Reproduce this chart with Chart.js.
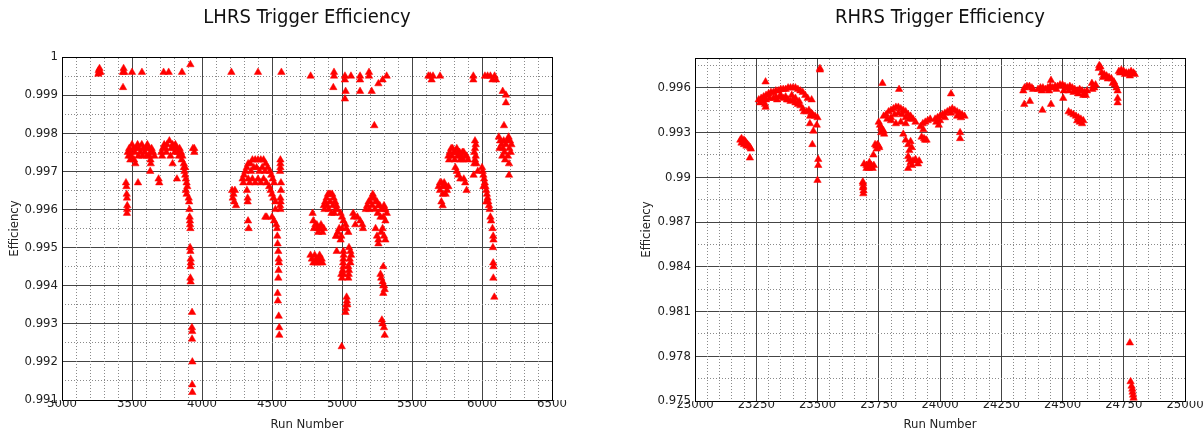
<!DOCTYPE html>
<html>
<head>
<meta charset="utf-8">
<script src="https://cdn.jsdelivr.net/npm/chart.js@4.4.1/dist/chart.umd.min.js"></script>
<style>
  body { margin: 0; background: #fff; width: 1204px; height: 432px; position: relative; overflow: hidden; }
  .box { position: absolute; top: 0; height: 432px; }
</style>
</head>
<body>
<div class="box" style="left:0;width:600px"><canvas id="lhrs" width="600" height="432"></canvas></div>
<div class="box" style="left:600px;width:604px"><canvas id="rhrs" width="604" height="432"></canvas></div>
<script>
// tick labels
const lhrsXTicks = [3000, 3500, 4000, 4500, 5000, 5500, 6000, 6500];
const lhrsYTicks = [0.991, 0.992, 0.993, 0.994, 0.995, 0.996, 0.997, 0.998, 0.999, 1];
const rhrsXTicks = [23000, 23250, 23500, 23750, 24000, 24250, 24500, 24750, 25000];
const rhrsYTicks = [0.975, 0.978, 0.981, 0.984, 0.987, 0.99, 0.993, 0.996];

// [run number, efficiency]
const lhrsPoints = [
  [3262,0.99965],[3265,0.9996],[3260,0.99955],[3268,0.9997],[3275,0.9996],
  [3440,0.9997],[3445,0.9996],[3435,0.9996],[3436,0.9992],
  [3500,0.9996],[3571,0.9996],[3726,0.9996],[3762,0.9996],[3857,0.9996],[3917,0.9998],
  [4210,0.9996],[4400,0.9996],[4567,0.9996],
  [4776,0.9995],[4943,0.9996],[4943,0.9995],[4938,0.9992],
  [5021,0.9995],[5021,0.9994],[5026,0.9991],[5021,0.9989],[5064,0.9995],
  [5129,0.9995],[5129,0.9994],[5129,0.9991],[5193,0.9996],[5193,0.9995],[5212,0.9991],[5231,0.9982],[5260,0.9993],[5290,0.9994],[5319,0.9995],
  [5617,0.9995],[5630,0.9995],[5640,0.9994],[5650,0.9995],[5700,0.9995],
  [5938,0.9995],[5938,0.9994],
  [6021,0.9995],[6040,0.9995],[6060,0.9995],[6075,0.9994],[6090,0.9995],[6100,0.9994],
  [6148,0.9991],[6171,0.999],[6171,0.9988],[6157,0.9982],
  [3470,0.9975],[3480,0.9976],[3490,0.9975],[3500,0.9977],[3510,0.9976],[3520,0.9975],[3530,0.9976],[3540,0.9977],[3550,0.9976],[3560,0.9975],
  [3570,0.9977],[3580,0.9976],[3590,0.9975],[3600,0.9976],[3610,0.9977],[3620,0.9976],[3630,0.9975],[3640,0.9976],[3650,0.9975],[3660,0.9974],
  [3475,0.9974],[3495,0.9974],[3515,0.9973],[3545,0.9974],[3575,0.9974],[3605,0.9974],[3625,0.9974],
  [3632,0.9973],[3634,0.9972],[3630,0.997],[3488,0.9973],[3524,0.9972],[3543,0.9967],
  [3457,0.9967],[3460,0.9966],[3462,0.9964],[3464,0.9963],[3466,0.9961],[3465,0.996],[3464,0.9959],
  [3710,0.9975],[3720,0.9976],[3730,0.9977],[3740,0.9976],[3750,0.9977],[3767,0.9978],[3780,0.9976],[3790,0.9977],[3800,0.9976],[3810,0.9977],
  [3820,0.9976],[3830,0.9975],[3840,0.9976],[3850,0.9975],[3860,0.9974],[3715,0.9974],[3745,0.9975],[3775,0.9974],[3805,0.9975],[3835,0.9974],
  [3855,0.9973],[3870,0.9972],[3880,0.9971],
  [3790,0.9972],[3690,0.9968],[3695,0.9967],[3821,0.9968],
  [3870,0.9971],[3875,0.997],[3880,0.9969],[3885,0.9968],[3890,0.9967],[3895,0.9966],[3885,0.9965],[3890,0.9964],
  [3935,0.9976],[3945,0.9976],[3945,0.9975],
  [3905,0.9963],[3908,0.9962],[3910,0.996],[3912,0.9958],[3914,0.9957],[3915,0.9956],[3917,0.9955],[3915,0.995],[3917,0.9949],[3919,0.9947],
  [3920,0.9946],[3918,0.9945],[3917,0.9942],[3919,0.9941],[3929,0.9933],[3928,0.9929],[3930,0.9928],[3929,0.9926],[3931,0.992],[3930,0.9914],[3931,0.9912],
  [4215,0.9965],[4225,0.9964],[4235,0.9965],[4220,0.9963],[4230,0.9962],[4243,0.9961],
  [4321,0.9965],[4326,0.9963],[4326,0.9962],[4329,0.9957],[4333,0.9955],
  [4290,0.9968],[4295,0.9967],[4300,0.9969],[4310,0.997],[4320,0.9971],[4330,0.9972],[4345,0.9972],[4360,0.9973],[4380,0.9973],[4400,0.9973],
  [4420,0.9973],[4440,0.9973],[4455,0.9972],[4470,0.9971],[4485,0.997],[4495,0.9969],[4505,0.9968],[4515,0.9967],[4350,0.997],[4370,0.9971],
  [4390,0.9971],[4410,0.997],[4430,0.9971],[4450,0.997],[4360,0.9968],[4380,0.9967],[4400,0.9968],[4420,0.9967],[4440,0.9968],[4460,0.9967],
  [4330,0.9968],[4340,0.9967],
  [4480,0.9966],[4490,0.9965],[4500,0.9964],[4510,0.9963],[4452,0.9958],[4524,0.9962],[4524,0.996],[4462,0.9958],
  [4560,0.9973],[4560,0.9972],[4560,0.9971],[4558,0.997],[4564,0.9967],[4564,0.9965],[4560,0.9963],[4562,0.9962],[4558,0.9961],[4560,0.996],
  [4500,0.9958],[4515,0.9957],[4530,0.9956],[4536,0.9955],
  [4538,0.9953],[4540,0.9951],[4545,0.9949],[4548,0.9947],[4550,0.9946],[4547,0.9944],[4545,0.9942],[4540,0.9938],[4542,0.9936],[4548,0.9932],
  [4552,0.9929],[4552,0.9927],
  [4790,0.9959],[4795,0.9957],[4810,0.9956],[4825,0.9955],[4850,0.9956],[4870,0.9955],
  [4870,0.9961],[4880,0.9962],[4890,0.9963],[4900,0.9964],[4910,0.9964],[4920,0.9964],[4930,0.9964],[4940,0.9963],[4950,0.9962],[4960,0.9961],
  [4965,0.996],[4875,0.996],[4895,0.9961],[4915,0.9962],[4935,0.9961],[4955,0.996],[4905,0.996],[4925,0.9959],[4945,0.9959],
  [4800,0.9955],[4820,0.9956],[4840,0.9955],[4860,0.9954],[4830,0.9954],[4850,0.9955],
  [4775,0.9948],[4785,0.9947],[4795,0.9946],[4805,0.9948],[4815,0.9947],[4825,0.9946],[4835,0.9947],[4845,0.9946],[4855,0.9947],[4860,0.9946],
  [4840,0.9948],[4810,0.9946],
  [4990,0.9959],[5000,0.9958],[5010,0.9957],[5025,0.9956],[5030,0.9955],
  [4960,0.9953],[4970,0.9954],[4980,0.9955],[4990,0.9952],[4995,0.9953],[5000,0.9955],
  [4962,0.9949],[5010,0.9949],[5012,0.9948],[5010,0.9947],[5008,0.9946],[5010,0.9945],[5005,0.9944],[5010,0.9943],[5000,0.9942],[4995,0.9943],
  [5050,0.995],[5060,0.9949],[5065,0.9948],[5055,0.9947],[5060,0.9946],[5045,0.9945],[5050,0.9944],[5048,0.9943],[5045,0.9942],
  [5033,0.9937],[5035,0.9936],[5030,0.9935],[5028,0.9934],[5025,0.9933],[5038,0.9935],[4998,0.9924],
  [4957,0.9953],[5045,0.9954],
  [5080,0.9959],[5085,0.9958],[5110,0.9958],[5130,0.9957],[5145,0.9956],[5150,0.9955],[5095,0.9956],
  [5170,0.996],[5180,0.9961],[5190,0.9962],[5200,0.9962],[5210,0.9963],[5220,0.9964],[5230,0.9963],[5240,0.9962],[5250,0.9962],[5260,0.9961],
  [5270,0.9961],[5280,0.996],[5290,0.996],[5300,0.9961],[5310,0.996],[5320,0.9959],[5195,0.996],[5215,0.9961],[5235,0.996],[5255,0.9959],
  [5275,0.9958],[5295,0.9958],[5310,0.9957],
  [5240,0.9955],[5250,0.9953],[5260,0.9952],[5280,0.9954],[5290,0.9955],[5300,0.9953],[5310,0.9952],[5260,0.9951],
  [5295,0.9945],[5275,0.9943],[5280,0.9942],[5290,0.9941],[5295,0.994],[5300,0.994],[5305,0.9939],[5295,0.9938],
  [5285,0.9931],[5290,0.993],[5300,0.9929],[5305,0.9927],
  [5690,0.9966],[5700,0.9967],[5710,0.9967],[5720,0.9966],[5730,0.9967],[5740,0.9966],[5750,0.9965],[5760,0.9966],[5700,0.9965],[5720,0.9964],
  [5740,0.9964],[5710,0.9962],[5719,0.9961],
  [5760,0.9974],[5770,0.9975],[5780,0.9976],[5790,0.9976],[5800,0.9975],[5810,0.9975],[5820,0.9976],[5830,0.9975],[5840,0.9975],[5850,0.9974],
  [5860,0.9975],[5870,0.9975],[5880,0.9974],[5890,0.9974],[5900,0.9973],[5765,0.9973],[5785,0.9974],[5805,0.9973],[5825,0.9974],[5845,0.9973],
  [5865,0.9973],
  [5810,0.9971],[5820,0.997],[5830,0.9969],[5845,0.9968],[5870,0.9968],[5880,0.9967],[5890,0.9965],
  [5950,0.9978],[5955,0.9977],[5950,0.9976],[5945,0.9975],[5955,0.9974],[5950,0.9973],[5945,0.9972],[5960,0.9972],[5940,0.9969],[5970,0.997],
  [6000,0.9971],[6005,0.997],[6010,0.9969],[6015,0.9968],[6020,0.9967],[6025,0.9966],[6030,0.9965],[6035,0.9964],[6040,0.9963],[6045,0.9962],
  [6050,0.9961],[6055,0.996],[6010,0.9966],[6030,0.9962],[6060,0.9958],[6065,0.9957],
  [6075,0.9955],[6080,0.9953],[6082,0.9952],[6078,0.995],[6080,0.9946],[6082,0.9945],[6081,0.9942],[6088,0.9937],
  [6120,0.9979],[6130,0.9978],[6140,0.9977],[6150,0.9976],[6160,0.9975],[6170,0.9977],[6180,0.9978],[6190,0.9979],[6200,0.9978],[6210,0.9977],
  [6125,0.9976],[6145,0.9974],[6165,0.9973],[6185,0.9974],[6205,0.9975],[6195,0.9976],[6155,0.9978],[6193,0.9972],[6193,0.9969]
];

const rhrsPoints = [
  [23185,0.9925],[23190,0.9926],[23195,0.9924],[23200,0.9925],[23205,0.9924],[23210,0.9923],[23215,0.9922],[23220,0.9921],[23225,0.992],
  [23190,0.9923],[23200,0.9922],[23210,0.9921],[23228,0.9919],[23224,0.9913],
  [23260,0.9952],[23270,0.9953],[23280,0.9954],[23290,0.9955],[23300,0.9956],[23310,0.9957],[23320,0.9957],[23330,0.9958],[23340,0.9958],
  [23350,0.9959],[23360,0.9959],[23370,0.9959],[23380,0.996],[23390,0.996],[23400,0.996],[23410,0.996],[23420,0.9959],[23430,0.9958],
  [23440,0.9957],[23450,0.9955],[23460,0.9953],
  [23288,0.9964],[23288,0.9947],[23286,0.9949],
  [23265,0.995],[23275,0.9951],[23290,0.9952],[23305,0.9953],[23320,0.9953],[23330,0.9954],[23345,0.9954],[23360,0.9953],[23370,0.9954],
  [23380,0.9952],[23390,0.9951],[23400,0.9952],[23410,0.995],[23420,0.9949],[23430,0.9948],
  [23335,0.9952],[23350,0.9955],[23375,0.9952],[23395,0.9955],[23410,0.9953],[23425,0.9951],
  [23440,0.9946],[23445,0.9944],[23476,0.9952],
  [23455,0.9944],[23465,0.9945],[23475,0.9943],[23480,0.9942],[23490,0.9941],[23500,0.994],[23470,0.9941],
  [23469,0.9936],[23497,0.9935],[23483,0.9931],[23479,0.9922],[23503,0.9912],[23503,0.9908],[23500,0.9898],
  [23510,0.9973],[23510,0.9972],
  [23685,0.9897],[23686,0.9896],[23687,0.9894],[23686,0.9893],[23688,0.9891],[23687,0.9889],
  [23690,0.9909],[23700,0.9908],[23705,0.9907],[23710,0.9906],[23715,0.9907],[23720,0.9908],[23725,0.9906],[23730,0.9908],[23700,0.9906],[23712,0.991],
  [23728,0.9915],
  [23735,0.9922],[23740,0.9921],[23745,0.9922],[23750,0.9921],[23742,0.9919],[23752,0.992],
  [23750,0.9937],[23755,0.9935],[23760,0.9933],[23765,0.9932],[23770,0.9931],[23760,0.993],[23772,0.9929],
  [23765,0.9963],
  [23770,0.9941],[23780,0.9942],[23790,0.9944],[23800,0.9945],[23810,0.9946],[23820,0.9947],[23830,0.9947],[23840,0.9946],[23850,0.9945],
  [23860,0.9944],[23870,0.9942],[23880,0.9941],[23890,0.9939],[23900,0.9937],[23785,0.9939],[23800,0.994],[23815,0.9942],[23830,0.9943],
  [23845,0.9942],[23860,0.994],[23875,0.9939],[23800,0.9938],[23820,0.9936],[23840,0.9937],[23860,0.9936],
  [23833,0.9959],
  [23850,0.9929],[23860,0.9925],[23870,0.9922],[23875,0.9918],[23880,0.9924],[23885,0.992],
  [23870,0.9914],[23875,0.9912],[23880,0.991],[23885,0.9908],[23890,0.9911],[23900,0.9912],[23910,0.9909],[23915,0.9911],[23870,0.9906],
  [23939,0.9925],[23932,0.9932],
  [23930,0.9936],[23940,0.9937],[23950,0.9938],[23960,0.9939],[23920,0.9934],[23935,0.9926],[23945,0.9925],[23925,0.9927],
  [23980,0.9939],[23990,0.994],[24000,0.9941],[24010,0.9942],[24020,0.9943],[24030,0.9944],[24040,0.9945],[24050,0.9946],[24060,0.9945],
  [24070,0.9944],[24080,0.9943],[24090,0.9942],[24100,0.9941],[23985,0.9937],[24000,0.9938],[24020,0.994],[24045,0.9943],[24070,0.9941],
  [24085,0.994],[23995,0.9935],
  [24045,0.9956],[24082,0.993],[24082,0.9926],
  [24340,0.9958],[24345,0.996],[24355,0.9961],[24365,0.9961],[24375,0.996],[24380,0.9959],[24344,0.9949],[24367,0.9951],
  [24400,0.9959],[24410,0.996],[24420,0.996],[24430,0.9959],[24440,0.996],[24450,0.9961],[24460,0.996],[24470,0.9961],[24480,0.9961],
  [24490,0.9962],[24500,0.9962],[24510,0.9961],[24520,0.996],[24530,0.9961],[24540,0.996],[24550,0.9959],[24560,0.9958],[24570,0.9959],
  [24580,0.9958],[24590,0.9957],[24600,0.9958],[24415,0.9958],[24445,0.9958],[24475,0.9959],[24505,0.9958],[24525,0.9958],[24545,0.9957],
  [24565,0.9956],[24585,0.9955],[24595,0.9955],
  [24453,0.9965],[24418,0.9945],[24453,0.9949],[24503,0.9953],
  [24525,0.9944],[24535,0.9943],[24545,0.9942],[24555,0.9941],[24565,0.994],[24575,0.9939],[24585,0.9938],[24570,0.9937],[24580,0.9936],[24560,0.9938],
  [24620,0.9963],[24625,0.9961],[24630,0.996],[24635,0.9962],[24622,0.9959],
  [24650,0.9975],[24655,0.9974],[24648,0.9973],
  [24660,0.997],[24670,0.9969],[24680,0.9968],[24690,0.9967],[24700,0.9966],[24710,0.9964],[24715,0.9962],[24720,0.996],[24725,0.9958],
  [24665,0.9967],[24685,0.9966],[24705,0.9963],[24725,0.9953],[24725,0.995],
  [24730,0.9971],[24740,0.9972],[24750,0.9971],[24760,0.997],[24770,0.997],[24780,0.9971],[24790,0.997],[24795,0.9969],[24735,0.997],
  [24755,0.9969],[24775,0.9968],
  [24775,0.9789],[24778,0.9763],[24782,0.976],[24785,0.9758],[24786,0.9756],[24788,0.9754],[24790,0.9752]
];

const FONT = "'DejaVu Sans Condensed', 'DejaVu Sans', sans-serif";

function onStep(v, step) {
  const q = v / step;
  return Math.abs(q - Math.round(q)) < 1e-6;
}

function stepList(from, to, step, digits) {
  const out = [];
  const n = Math.round((to - from) / step);
  for (let i = 0; i <= n; i++) out.push(+(from + i * step).toFixed(digits));
  return out;
}

function drawChart(id, c) {
  const minorX = stepList(c.xMin, c.xMax, c.xMinorStep, 0);
  const minorY = stepList(c.yMin, c.yMax, c.yMinorStep, 5);
  return new Chart(document.getElementById(id), {
    type: 'scatter',
    data: {
      datasets: [{
        data: c.points.map(p => ({ x: p[0], y: p[1] })),
        pointStyle: 'triangle',
        radius: 4.3,
        hoverRadius: 4.3,
        backgroundColor: '#ff0000',
        borderColor: '#ff0000',
        borderWidth: 0.5
      }]
    },
    options: {
      responsive: false,
      animation: false,
      layout: { padding: { left: 0, right: c.padRight, top: 0, bottom: 0 } },
      plugins: {
        legend: { display: false },
        tooltip: { enabled: false },
        title: {
          display: true,
          text: c.title,
          fullSize: false,
          color: '#111',
          font: { family: FONT, size: 20, weight: 'normal' },
          padding: { top: 6, bottom: c.top - 30 }
        }
      },
      scales: {
        x: {
          type: 'linear', position: 'bottom', min: c.xMin, max: c.xMax,
          afterBuildTicks: s => { s.ticks = c.xTicks.map(v => ({ value: v })); },
          afterFit: s => { s.height = 432 - c.bottom; },
          grid: { color: '#444', lineWidth: 1, drawTicks: false },
          border: { color: '#000' },
          ticks: { padding: -4, color: '#222', font: { family: FONT, size: 13 }, maxRotation: 0, autoSkip: false, callback: v => String(v) },
          title: { display: true, text: 'Run Number', color: '#222', font: { family: FONT, size: 13 }, padding: { top: 0, bottom: 0 } }
        },
        y: {
          type: 'linear', position: 'left', min: c.yMin, max: c.yMax,
          afterBuildTicks: s => { s.ticks = c.yTicks.map(v => ({ value: v })); },
          afterFit: s => { s.width = c.left; },
          grid: { color: '#444', lineWidth: 1, drawTicks: false },
          border: { color: '#000' },
          ticks: { padding: 4, color: '#222', font: { family: FONT, size: 13 }, autoSkip: false, callback: v => String(v) },
          title: { display: true, text: 'Efficiency', color: '#222', font: { family: FONT, size: 13 }, padding: { top: c.yTitleX - 7.8, bottom: 0 } }
        },
        xMinor: {
          type: 'linear', position: 'top', min: c.xMin, max: c.xMax,
          afterBuildTicks: s => { s.ticks = minorX.map(v => ({ value: v })); },
          afterFit: s => { s.height = 0; },
          ticks: { display: false },
          grid: { drawTicks: false, lineWidth: 1, color: ctx => onStep(ctx.tick.value, c.xMajorStep) ? 'rgba(0,0,0,0)' : '#8a8a8a' },
          border: { color: '#000', dash: [1, 2] }
        },
        yMinor: {
          type: 'linear', position: 'right', min: c.yMin, max: c.yMax,
          afterBuildTicks: s => { s.ticks = minorY.map(v => ({ value: v })); },
          afterFit: s => { s.width = 0; },
          ticks: { display: false },
          grid: { drawTicks: false, lineWidth: 1, color: ctx => onStep(ctx.tick.value - c.yMin, c.yMajorStep) ? 'rgba(0,0,0,0)' : '#8a8a8a' },
          border: { color: '#000', dash: [1, 2] }
        }
      }
    }
  });
}

drawChart('lhrs', {
  title: 'LHRS Trigger Efficiency',
  points: lhrsPoints,
  xTicks: lhrsXTicks, yTicks: lhrsYTicks,
  xMin: 3000, xMax: 6500, xMajorStep: 500, xMinorStep: 100,
  yMin: 0.991, yMax: 1, yMajorStep: 0.001, yMinorStep: 0.0005,
  left: 62, top: 57, bottom: 400, padRight: 48, yTitleX: 15
});

drawChart('rhrs', {
  title: 'RHRS Trigger Efficiency',
  points: rhrsPoints,
  xTicks: rhrsXTicks, yTicks: rhrsYTicks,
  xMin: 23000, xMax: 25000, xMajorStep: 250, xMinorStep: 50,
  yMin: 0.975, yMax: 0.998, yMajorStep: 0.003, yMinorStep: 0.0015,
  left: 95, top: 58, bottom: 401, padRight: 19, yTitleX: 47
});
</script>
</body>
</html>
